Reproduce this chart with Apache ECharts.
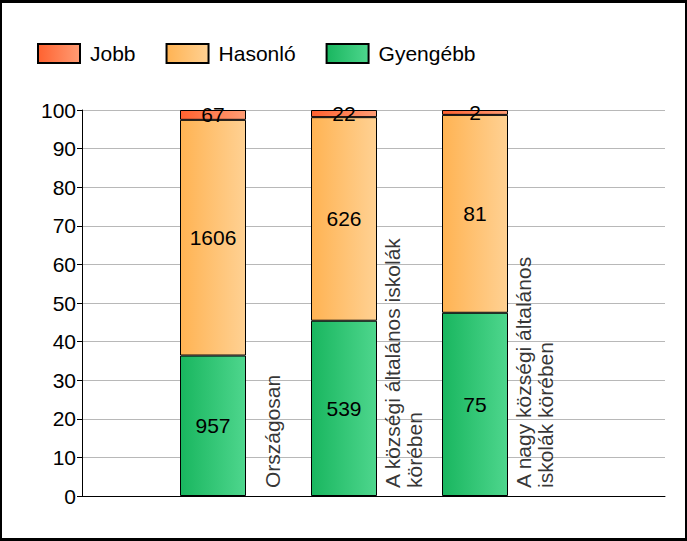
<!DOCTYPE html>
<html>
<head>
<meta charset="utf-8">
<script src="https://cdn.jsdelivr.net/npm/echarts@6/dist/echarts.min.js"></script>
<style>
  html, body { margin: 0; padding: 0; background: #fff; }
  #chart { position: absolute; left: 0; top: 0; width: 687px; height: 541px; }
  /* black frame round the picture */
  #frame {
    position: absolute; left: 0; top: 0; width: 687px; height: 541px;
    box-sizing: border-box; border: 2px solid #000; border-top-width: 3px; border-bottom-width: 3px;
    pointer-events: none;
  }
</style>
</head>
<body>
<div id="chart"></div>
<div id="frame"></div>
<script>
// kategóriák
const categories = [
  'Országosan',
  'A községi általános iskolák\nkörében',
  'A nagy községi általános\niskolák körében'
];
// létszámok kategóriánként
const gyengebb = [957, 539, 75];
const hasonlo = [1606, 626, 81];
const jobb = [67, 22, 2];
const yTicks = [0, 100, 10]; // min, max, lépés

const totals = categories.map((c, i) => gyengebb[i] + hasonlo[i] + jobb[i]);
const font = 'Arial, "Liberation Sans", sans-serif';

// százalékos oszlop a létszámokból, a címke a létszám
function toSeries(name, counts, c1, c2) {
  return {
    name: name,
    type: 'bar',
    stack: 'all',
    xAxisIndex: 1,
    yAxisIndex: 1,
    barWidth: 66,
    data: counts.map((v, i) => v / totals[i] * 100),
    itemStyle: {
      color: new echarts.graphic.LinearGradient(0, 0, 1, 0, [
        { offset: 0, color: c1 },
        { offset: 1, color: c2 }
      ]),
      borderColor: '#000',
      borderWidth: 1
    },
    label: {
      show: true,
      position: 'inside',
      color: '#000',
      fontFamily: font,
      fontSize: 21,
      formatter: p => counts[p.dataIndex]
    },
    emphasis: { disabled: true }
  };
}

const series = [
  toSeries('Gyengébb', gyengebb, '#19b65f', '#4ed68d'),
  toSeries('Hasonló', hasonlo, '#ffb353', '#ffd193'),
  toSeries('Jobb', jobb, '#ff6230', '#ff9c74'),
  // kategórianevek az oszlopok jobb oldalán, függőlegesen
  {
    type: 'scatter',
    symbolSize: 0,
    silent: true,
    data: categories.map((c, i) => [i + 1.455, 0]),
    label: {
      show: true,
      position: 'top',
      distance: 8,
      rotate: 90,
      align: 'left',
      verticalAlign: 'middle',
      color: '#000',
      fontFamily: font,
      fontSize: 21,
      lineHeight: 22,
      formatter: p => categories[p.dataIndex]
    }
  }
];

const option = {
  animation: false,
  backgroundColor: '#fff',
  legend: {
    data: ['Jobb', 'Hasonló', 'Gyengébb'],
    left: 37,
    top: 43,
    padding: 0,
    icon: 'rect',
    itemWidth: 42,
    itemHeight: 19,
    itemGap: 30,
    textStyle: { color: '#000', fontFamily: font, fontSize: 21, padding: [0, 0, 0, 5] }
  },
  grid: [
    // tengelyek, rácsvonalak
    { left: 82, right: 22, top: 110, bottom: 45 },
    // oszlopok: 131 px széles sávok
    { left: 147.5, right: 146.5, top: 110, bottom: 45 }
  ],
  xAxis: [
    {
      type: 'value',
      gridIndex: 0,
      min: 0,
      max: 583 / 131,
      axisLine: { show: true, lineStyle: { color: '#000', width: 1 } },
      axisTick: { show: false },
      axisLabel: { show: false },
      splitLine: { show: false }
    },
    {
      type: 'category',
      gridIndex: 1,
      data: categories,
      show: false
    }
  ],
  yAxis: [
    {
      type: 'value',
      gridIndex: 0,
      min: yTicks[0],
      max: yTicks[1],
      interval: yTicks[2],
      axisLine: { show: true, lineStyle: { color: '#000', width: 1 } },
      axisTick: { show: true, length: 5, lineStyle: { color: '#000' } },
      axisLabel: { color: '#000', fontFamily: font, fontSize: 21, margin: 6 },
      splitLine: { show: true, lineStyle: { color: '#b8b8b8', width: 1 } }
    },
    {
      type: 'value',
      gridIndex: 1,
      min: yTicks[0],
      max: yTicks[1],
      show: false
    }
  ],
  series: series
};

const chart = echarts.init(document.getElementById('chart'), null, { renderer: 'svg' });
chart.setOption(option);
</script>
</body>
</html>
